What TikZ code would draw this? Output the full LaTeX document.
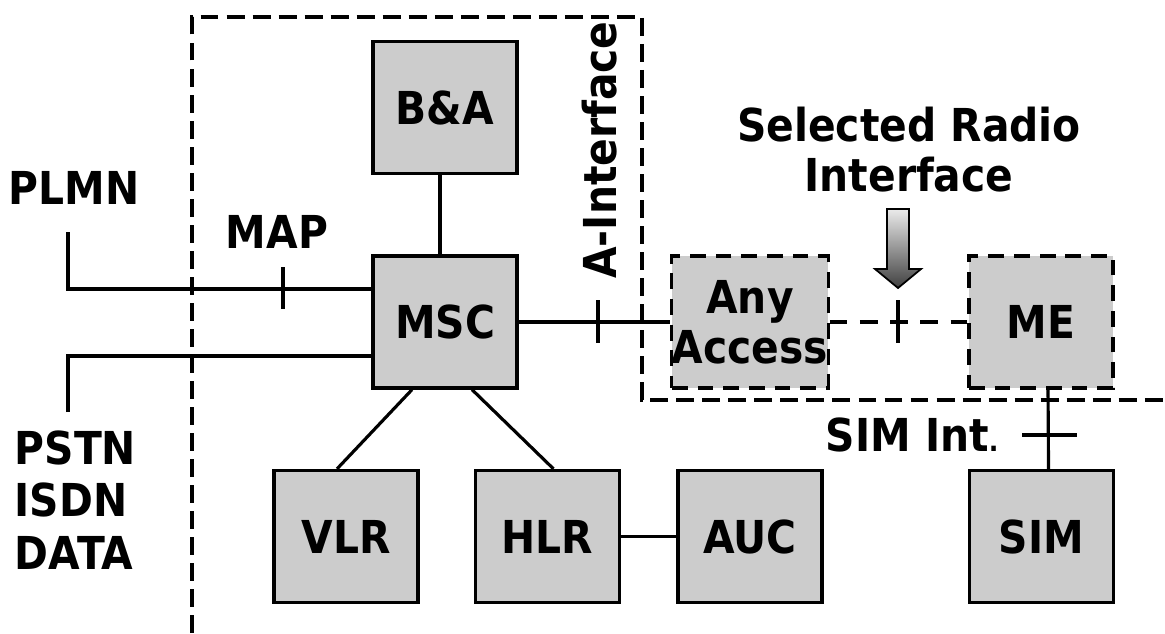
\documentclass[tikz,border=0pt]{standalone}
\usepackage{fontspec}
\setmainfont[FakeStretch=0.9]{DejaVu Sans}

\begin{document}
\begin{tikzpicture}[x=0.01cm,y=-0.01cm,
  lbl/.style={font=\fontsize{12.9}{15}\selectfont\bfseries},
  box/.style={lbl,draw,line width=0.9pt,fill=black!20,minimum width=1.44cm,minimum height=1.32cm,inner sep=0pt},
  dbox/.style={box,dash pattern=on 4.5pt off 2.8pt},
  wire/.style={line width=0.9pt},
  dwire/.style={wire,dash pattern=on 5pt off 3.6pt},
  bound/.style={line width=1pt,dash pattern=on 5.1pt off 2.3pt}]
\useasboundingbox (0,0) rectangle (1165,633);

% network boundary
\draw[bound] (192,633) -- (192,17) -- (642,17) -- (642,400) -- (1165,400);

% boxes
\node[box] (ba) at (445,107.5) {B\&A};
\node[box] (msc) at (445,322) {MSC};
\node[box] (vlr) at (346,536.5) {VLR};
\node[box] (hlr) at (547.5,536.5) {HLR};
\node[box] (auc) at (750,536.5) {AUC};
\node[box] (sim) at (1041.5,536.5) {SIM};
\node[dbox,align=center,font=\fontsize{12.9}{14.2}\selectfont\bfseries] (acc) at (750,322) {Any\\Access};
\node[dbox] (me) at (1041,322) {ME};

% labels
\node[lbl] (plmn) at (74,188) {PLMN};
\node[lbl] (map) at (277,232) {MAP};
\node[lbl,align=left,anchor=west,inner sep=0pt] (pstn) at (14,500) {PSTN\\ISDN\\DATA};
\node[lbl,rotate=90] (aif) at (600,150) {A-Interface};
\node[lbl,align=center,font=\fontsize{12.9}{14.2}\selectfont\bfseries] (sri) at (909,150) {Selected Radio\\Interface};
\node[lbl] (simint) at (912,435) {SIM Int{\fontsize{8}{8}\selectfont.}};

% free ends
\coordinate (plmnend) at (68,232);
\coordinate (pstnend) at (68,412);

% connections
\draw[wire] ([xshift=-0.05cm]ba.south) -- ([xshift=-0.05cm]msc.north);
\draw[wire] (plmnend) |- ([yshift=0.33cm]msc.west);
\draw[wire] (pstnend) |- ([yshift=-0.34cm]msc.west);
\draw[wire] ([xshift=-0.33cm]msc.south) -- ([xshift=-0.09cm]vlr.north);
\draw[wire] ([xshift=0.27cm]msc.south) -- ([xshift=0.06cm]hlr.north);
\draw[wire] (hlr) -- (auc);
\draw[wire] (msc) -- (acc);
\draw[dwire] (acc) -- (me);
\draw[wire] ([xshift=0.07cm]me.south) -- ([xshift=0.07cm]sim.north);

% interface ticks
\draw[wire] (283,267) -- (283,309);
\draw[wire] (598,300) -- (598,343);
\draw[wire] (898,300) -- (898,343);
\draw[wire] (1022,435) -- (1077,435);

% radio arrow
\shade[top color=black!8,bottom color=black!75,draw=black,line width=0.5pt]
  (887,209) -- (909,209) -- (909,269) -- (921,269) -- (898,288) -- (875,269) -- (887,269) -- cycle;
\end{tikzpicture}
\end{document}
